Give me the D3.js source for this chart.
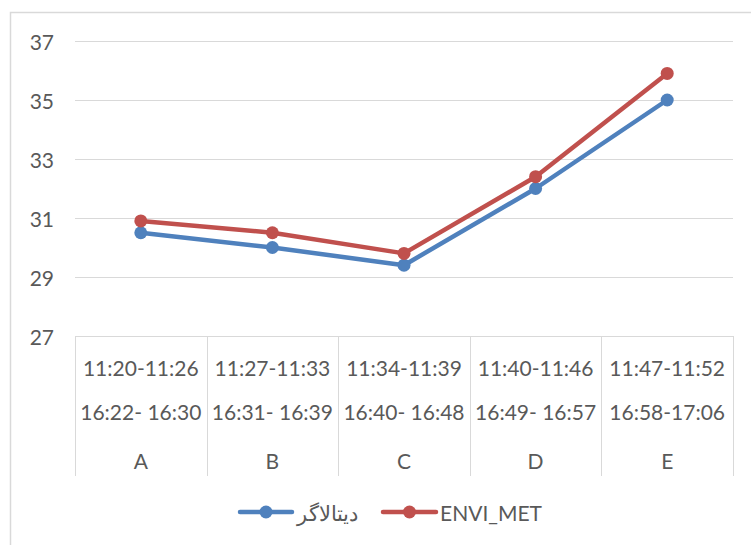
<!DOCTYPE html>
<html>
<head>
<meta charset="utf-8">
<script src="https://cdn.jsdelivr.net/npm/d3@7/dist/d3.min.js"></script>
<style>
  html, body { margin: 0; padding: 0; background: #fff; }
  svg { display: block; }
  text { font-family: Lato, "Open Sans", sans-serif; fill: #595959; }
</style>
</head>
<body>
<svg id="chart" width="751" height="545"></svg>
<script>
const categories = ["A", "B", "C", "D", "E"];
const timeLine1 = ["11:20-11:26", "11:27-11:33", "11:34-11:39", "11:40-11:46", "11:47-11:52"];
const timeLine2 = ["16:22- 16:30", "16:31- 16:39", "16:40- 16:48", "16:49- 16:57", "16:58-17:06"];
const dataloggerValues = [30.5, 30.0, 29.4, 32.0, 35.0];
const envimetValues = [30.9, 30.5, 29.8, 32.4, 35.9];
const yTicks = [27, 29, 31, 33, 35, 37];
const seriesNames = ["دیتالاگر", "ENVI_MET"];
const seriesColors = ["#4F81BD", "#C0504D"];

const svg = d3.select("#chart");

// chart frame
svg.append("path")
  .attr("d", "M10.5,545 L10.5,12.5 L751,12.5")
  .attr("fill", "none").attr("stroke", "#d9d9d9").attr("stroke-width", 1.5);

const x = d3.scaleBand().domain(categories).range([75, 733]).padding(0);
const y = d3.scaleLinear().domain([27, 37]).range([336, 41]);

// gridlines
svg.append("g").selectAll("line").data(yTicks).join("line")
  .attr("x1", 75).attr("x2", 733)
  .attr("y1", d => Math.round(y(d)) + 0.5).attr("y2", d => Math.round(y(d)) + 0.5)
  .attr("stroke", "#d9d9d9").attr("stroke-width", 1);

// y tick labels
svg.append("g").selectAll("text").data(yTicks).join("text")
  .attr("x", 54).attr("y", d => y(d))
  .attr("text-anchor", "end").attr("dominant-baseline", "central")
  .attr("font-size", 21)
  .text(d => d);

// category dividers (multi-level axis)
const edges = categories.map(c => x(c)).concat([x.range()[1]]);
svg.append("g").selectAll("line").data(edges).join("line")
  .attr("x1", d => Math.round(d) + 0.5).attr("x2", d => Math.round(d) + 0.5)
  .attr("y1", 336).attr("y2", 476)
  .attr("stroke", "#d9d9d9").attr("stroke-width", 1);

const catG = svg.append("g");
catG.selectAll("text.l1").data(categories).join("text").attr("class", "l1")
  .attr("x", d => x(d) + x.bandwidth() / 2).attr("y", 367)
  .attr("text-anchor", "middle").attr("dominant-baseline", "central")
  .attr("font-size", 21).text((d, i) => timeLine1[i]);
catG.selectAll("text.l2").data(categories).join("text").attr("class", "l2")
  .attr("x", d => x(d) + x.bandwidth() / 2).attr("y", 411)
  .attr("text-anchor", "middle").attr("dominant-baseline", "central")
  .attr("font-size", 21).text((d, i) => timeLine2[i]);
catG.selectAll("text.l3").data(categories).join("text").attr("class", "l3")
  .attr("x", d => x(d) + x.bandwidth() / 2).attr("y", 460)
  .attr("text-anchor", "middle").attr("dominant-baseline", "central")
  .attr("font-size", 21).text(d => d);

// series
const series = [dataloggerValues, envimetValues];
const line = d3.line().x((d, i) => x(categories[i]) + x.bandwidth() / 2).y(d => y(d));
series.forEach((vals, si) => {
  const g = svg.append("g");
  g.append("path").datum(vals).attr("d", line)
    .attr("fill", "none").attr("stroke", seriesColors[si])
    .attr("stroke-width", 4.5).attr("stroke-linejoin", "round").attr("stroke-linecap", "round");
  g.selectAll("circle").data(vals).join("circle")
    .attr("cx", (d, i) => x(categories[i]) + x.bandwidth() / 2)
    .attr("cy", d => y(d)).attr("r", 6.5)
    .attr("fill", seriesColors[si]);
});

// legend
const legend = [
  { x1: 240, x2: 292, textX: 327, anchor: "middle" },
  { x1: 383, x2: 436, textX: 440, anchor: "start" }
];
legend.forEach((l, i) => {
  const g = svg.append("g");
  g.append("line").attr("x1", l.x1).attr("x2", l.x2).attr("y1", 512).attr("y2", 512)
    .attr("stroke", seriesColors[i]).attr("stroke-width", 4.5).attr("stroke-linecap", "round");
  g.append("circle").attr("cx", (l.x1 + l.x2) / 2).attr("cy", 512).attr("r", 6.5).attr("fill", seriesColors[i]);
  g.append("text").attr("x", l.textX).attr("y", 512)
    .attr("text-anchor", l.anchor).attr("dominant-baseline", "central")
    .attr("font-size", 21).text(seriesNames[i]);
});
</script>
</body>
</html>
